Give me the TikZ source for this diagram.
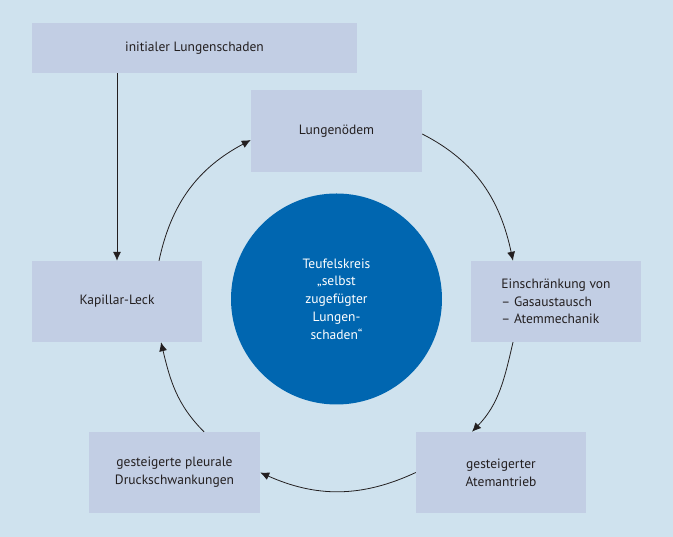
\documentclass[tikz,border=0pt]{standalone}
\usepackage{fontspec}
\setmainfont{PT Sans}
\usetikzlibrary{arrows.meta,calc}
\definecolor{bgblue}{RGB}{207,226,238}
\definecolor{boxblue}{RGB}{194,206,228}
\definecolor{circblue}{RGB}{0,102,176}
\definecolor{inkdark}{RGB}{35,31,32}
\begin{document}
\begin{tikzpicture}[x=1pt,y=1pt,
  stepbox/.style={fill=boxblue,draw=none,inner sep=0pt,minimum width=170pt,minimum height=81pt,align=center,text=inkdark,font=\fontsize{13.5}{17.7}\selectfont},
  cycarrow/.style={draw=inkdark,line width=0.8pt,-{Latex[length=9pt,width=8pt]}}]
\useasboundingbox (0,0) rectangle (673,537);
\fill[bgblue] (0,0) rectangle (673,537);
\node[stepbox,minimum width=325pt,minimum height=50pt] (init) at (194.5,489) {initialer Lungenschaden};
\node[stepbox,minimum width=171pt,minimum height=82pt] (oedem) at (336.5,406) {Lungenödem};
\node[stepbox] (kap) at (117,235.5) {Kapillar-Leck};
\node[stepbox,align=left] (ein) at (556,235.5) {Einschränkung von\\– Gasaustausch\\– Atemmechanik};
\node[stepbox] (atem) at (501,64.5) {gesteigerter\\Atemantrieb};
\node[stepbox,minimum width=171pt] (pleu) at (174.5,64.5) {gesteigerte pleurale\\Druckschwankungen};
\node[circle,fill=circblue,minimum size=211pt,inner sep=0pt,text=white,align=center,font=\fontsize{13.5}{17.7}\selectfont] (vc) at (336.5,238) {Teufelskreis\\„selbst\\zugefügter\\Lungen-\\schaden“};
\draw[cycarrow] (init.south -| kap.north) -- (kap.north);
\draw[cycarrow] ([xshift=42pt]kap.north) to[out=78,in=208] ([yshift=-9pt]oedem.west);
\draw[cycarrow] ([yshift=-3pt]oedem.east) to[out=-27,in=102] ([xshift=-43pt]ein.north);
\draw[cycarrow] ([xshift=-43pt]ein.south) to[out=-103,in=46] ([xshift=-29pt]atem.north);
\draw[cycarrow] (atem.west) to[out=-155,in=-24] (pleu.east);
\draw[cycarrow] ([xshift=29.5pt]pleu.north) to[out=135,in=-76.5] ([xshift=44pt]kap.south);
\end{tikzpicture}
\end{document}
